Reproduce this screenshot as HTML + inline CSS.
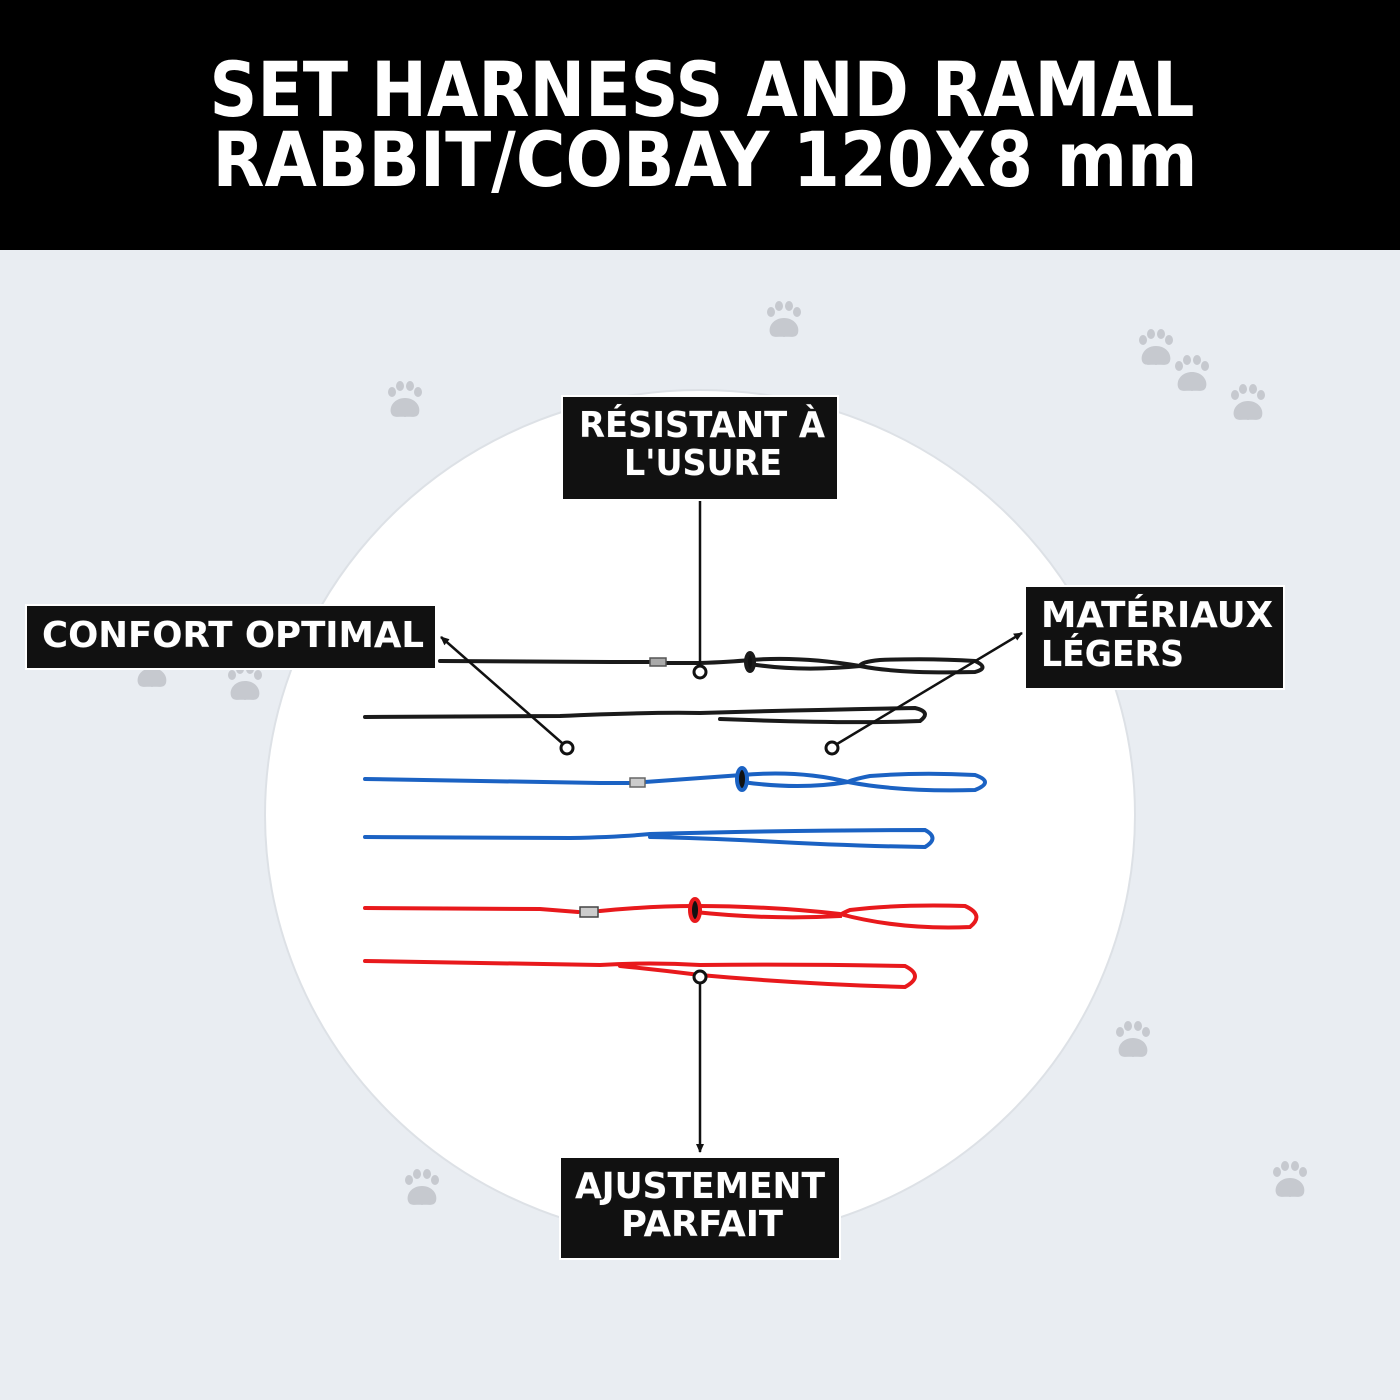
<!DOCTYPE html>
<html><head><meta charset="utf-8"><style>
html,body{margin:0;padding:0;width:1400px;height:1400px;overflow:hidden;background:#e9edf2}
svg{display:block}
</style></head><body>
<svg width="1400" height="1400" viewBox="0 0 1400 1400" xmlns="http://www.w3.org/2000/svg">
<defs>
<g id="paw"><path d="M0,-2 C-10,-2 -16,6 -14,13 C-12,19 -5,16 0,17 C5,16 12,19 14,13 C16,6 10,-2 0,-2 z"/><ellipse cx="-13" cy="-8" rx="4" ry="5"/><ellipse cx="-5" cy="-14" rx="4" ry="5"/><ellipse cx="5" cy="-14" rx="4" ry="5"/><ellipse cx="13" cy="-8" rx="4" ry="5"/></g>
<marker id="ar" markerWidth="10" markerHeight="10" refX="8" refY="5" orient="auto" markerUnits="userSpaceOnUse"><path d="M0,1 L9,5 L0,9 z" fill="#111"/></marker>
</defs>
<rect width="1400" height="1400" fill="#e9edf2"/>
<rect width="1400" height="250" fill="#000"/>
<g font-family="'DejaVu Sans','Liberation Sans',sans-serif" font-weight="bold" fill="#fff" font-size="76" text-anchor="middle">
<text x="702" y="116" textLength="985" lengthAdjust="spacingAndGlyphs">SET HARNESS AND RAMAL</text>
<text x="705" y="186" textLength="985" lengthAdjust="spacingAndGlyphs">RABBIT/COBAY 120X8 mm</text>
</g>
<g fill="#c6c9cf">
<use href="#paw" x="405" y="400"/><use href="#paw" x="784" y="320"/>
<use href="#paw" x="1156" y="348"/><use href="#paw" x="1192" y="374"/><use href="#paw" x="1248" y="403"/>
<use href="#paw" x="152" y="670"/><use href="#paw" x="245" y="683"/><use href="#paw" x="1133" y="1040"/>
<use href="#paw" x="422" y="1188"/><use href="#paw" x="1290" y="1180"/>
</g>
<ellipse cx="700" cy="815" rx="435" ry="425" fill="#fff" stroke="#dde1e6" stroke-width="2"/>
<!-- leashes -->
<g fill="none" stroke-linecap="round" stroke-width="4">
<g stroke="#1a1a1a">
<path d="M440 661 L610 662 L650 662 M665 663 L700 663 Q730 662 750 660 Q800 656 860 666 Q900 674 975 672 Q990 668 975 661 Q930 658 880 660 Q860 662 860 666 Q800 672 750 664"/>
<rect x="650" y="658" width="16" height="8" fill="#aaa" stroke="#555" stroke-width="1.5"/>
<ellipse cx="750" cy="662" rx="4" ry="9" fill="#111"/>
<path d="M365 717 L560 716 Q650 712 700 713 Q800 710 915 708 Q932 712 920 721 Q850 724 720 719"/>
</g>
<g stroke="#1b62c3">
<path d="M365 779 L600 783 L632 783 M645 782 Q700 778 742 775 Q800 770 848 782 Q900 792 975 790 Q995 782 975 775 Q920 772 870 776 Q850 780 848 782 Q800 790 742 782"/>
<rect x="630" y="778" width="15" height="9" fill="#ccc" stroke="#666" stroke-width="1.5"/>
<ellipse cx="742" cy="779" rx="5" ry="11" fill="#111"/>
<path d="M365 837 L570 838 Q620 837 650 834 Q800 830 925 830 Q940 838 925 847 Q850 846 760 841 Q700 838 650 837"/>
</g>
<g stroke="#e8191c">
<path d="M365 908 L540 909 L578 912 M600 911 Q650 906 695 906 Q770 906 840 914 Q900 930 970 927 Q985 915 965 906 Q900 904 850 910 Q840 914 840 916 Q770 920 695 912"/>
<rect x="580" y="907" width="18" height="10" fill="#ccc" stroke="#444" stroke-width="1.5"/>
<ellipse cx="695" cy="910" rx="5" ry="11" fill="#111"/>
<path d="M365 961 L600 965 Q650 962 700 965 Q800 964 905 966 Q925 976 905 987 Q800 984 700 975 Q660 970 620 966"/>
</g>
</g>
<!-- connectors -->
<g stroke="#111" stroke-width="2.5" fill="none">
<line x1="700" y1="500" x2="700" y2="666"/>
<circle cx="700" cy="672" r="6" fill="#fff" stroke-width="3"/>
<line x1="562" y1="743" x2="441" y2="637" marker-end="url(#ar)"/>
<circle cx="567" cy="748" r="6" fill="#fff" stroke-width="3"/>
<line x1="837" y1="744" x2="1022" y2="633" marker-end="url(#ar)"/>
<circle cx="832" cy="748" r="6" fill="#fff" stroke-width="3"/>
<line x1="700" y1="983" x2="700" y2="1152" marker-end="url(#ar)"/>
<circle cx="700" cy="977" r="6" fill="#fff" stroke-width="3"/>
</g>
<!-- labels -->
<g stroke="#fff" stroke-width="2" fill="#111">
<rect x="562" y="396" width="276" height="104"/>
<rect x="26" y="605" width="410" height="64"/>
<rect x="1025" y="586" width="259" height="103"/>
<rect x="560" y="1157" width="280" height="102"/>
</g>
<g font-family="'DejaVu Sans','Liberation Sans',sans-serif" font-weight="bold" fill="#fff" font-size="36" stroke="#222" stroke-width="1" paint-order="stroke">
<g text-anchor="middle">
<text x="702" y="437" textLength="246" lengthAdjust="spacingAndGlyphs">RÉSISTANT À</text>
<text x="703" y="475" textLength="158" lengthAdjust="spacingAndGlyphs">L'USURE</text>
<text x="700" y="1198" textLength="250" lengthAdjust="spacingAndGlyphs">AJUSTEMENT</text>
<text x="702" y="1236" textLength="162" lengthAdjust="spacingAndGlyphs">PARFAIT</text>
</g>
<text x="42" y="647" textLength="382" lengthAdjust="spacingAndGlyphs">CONFORT OPTIMAL</text>
<text x="1041" y="627" textLength="232" lengthAdjust="spacingAndGlyphs">MATÉRIAUX</text>
<text x="1041" y="666" textLength="143" lengthAdjust="spacingAndGlyphs">LÉGERS</text>
</g>
</svg>
</body></html>
